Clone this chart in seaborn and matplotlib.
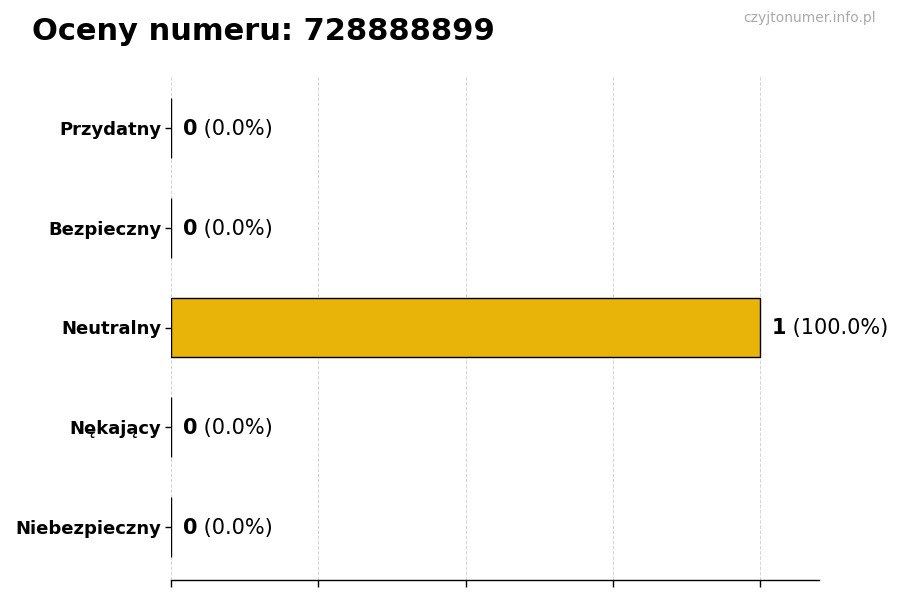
import matplotlib
matplotlib.use("Agg")
import matplotlib.pyplot as plt
import seaborn as sns
import pandas as pd

categories = ["Przydatny", "Bezpieczny", "Neutralny", "Nękający", "Niebezpieczny"]
counts = [0, 0, 1, 0, 0]
percents = [0.0, 0.0, 100.0, 0.0, 0.0]
bar_color = "#E8B40A"
title = "Oceny numeru: 728888899"
watermark = "czyjtonumer.info.pl"

sns.set_theme(style="white")
plt.rcParams['font.family'] = ['DejaVu Sans']

df = pd.DataFrame({"kategoria": categories, "liczba": counts})

fig = plt.figure(figsize=(9, 6), dpi=100)
ax = fig.add_axes([171/900, 1-580/600, (819-171)/900, (580-75)/600])

sns.barplot(data=df, y="kategoria", x="liczba", orient="h", ax=ax,
            color=bar_color, saturation=1, width=0.6,
            edgecolor="black", linewidth=1.0)

ax.set_xlim(0, 1.1)
ax.set_ylim(4.53, -0.53)
ax.set_xticks([0, 0.25, 0.5, 0.75, 1.0])
ax.set_xticklabels([])
ax.set_xlabel("")
ax.set_ylabel("")
ax.grid(axis="x", linestyle="--", color="#d5d5d5", linewidth=0.7)
ax.set_axisbelow(True)
for s in ["top", "right", "left"]:
    ax.spines[s].set_visible(False)
ax.spines["bottom"].set_color("black")
ax.spines["bottom"].set_linewidth(1.0)
ax.tick_params(axis="x", which="both", bottom=True, length=5, width=1, color="black")
ax.tick_params(axis="y", which="both", left=True, length=4, width=1, color="black", pad=3)
for lbl in ax.get_yticklabels():
    lbl.set_fontweight("bold")
    lbl.set_fontsize(13)
    lbl.set_color("black")

fig.canvas.draw()
renderer = fig.canvas.get_renderer()
for i, (c, p) in enumerate(zip(counts, percents)):
    x = c + 0.02
    t1 = ax.text(x, i + 0.01, f"{c}", fontsize=15, fontweight="bold", va="center", ha="left", color="black")
    bb = t1.get_window_extent(renderer=renderer)
    inv = ax.transData.inverted()
    x2 = inv.transform((bb.x1, 0))[0]
    ax.text(x2, i + 0.01, f" ({p:.1f}%)", fontsize=15, va="center", ha="left", color="black")

fig.text(32/900, 1-31/600, title, fontsize=22, fontweight="bold", ha="left", va="center", color="black")
fig.text(876/900, 1-18/600, watermark, fontsize=10, ha="right", va="center", color="#aaaaaa")

fig.savefig("out.png", dpi=100)
